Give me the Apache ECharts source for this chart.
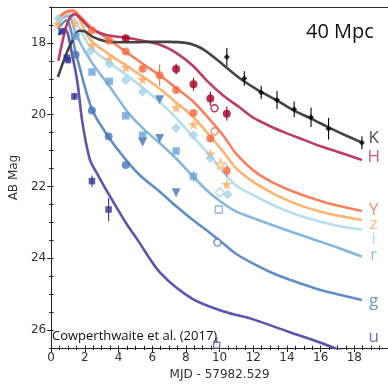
<!DOCTYPE html>
<html><head><meta charset="utf-8">
<script src="https://cdn.jsdelivr.net/npm/echarts@6/dist/echarts.min.js"></script>
<style>html,body{margin:0;padding:0;background:#fff;}#c{width:388px;height:386px;}</style>
</head><body><div id="c"></div>
<script>
// ---- model curves (AB mag vs days) ----
const kLineX = [0.40,0.9,1.3,1.65,2.0,2.5,3.2,4.0,5.0,6.0,7.0,8.0,8.6,9.1,9.8,10.5,11.3,12.3,13.4,14.4,15.4,16.5,17.5,18.45];
const kLineY = [18.95,18.3,17.9,17.66,17.68,17.84,17.95,17.98,17.98,17.97,17.97,18.0,18.08,18.2,18.45,18.72,19.02,19.32,19.6,19.88,20.1,20.36,20.58,20.77];
const hLineX = [0.43,0.8,1.1,1.4,1.8,2.3,3.2,4.4,5.0,5.7,6.5,7.4,8.4,9.3,10.25,11.2,12.0,13.0,14.0,15.0,16.0,17.0,18.45];
const hLineY = [18.5,17.7,17.3,17.2,17.35,17.58,17.77,17.85,17.9,17.96,18.06,18.27,18.63,19.08,19.48,19.8,20.08,20.32,20.52,20.7,20.88,21.03,21.26];
const yLineX = [0.34,0.8,1.3,1.8,2.4,3.45,4.5,5.5,6.5,7.4,8.4,9.45,10.25,11.0,12.0,13.0,14.0,15.0,16.0,17.0,18.45];
const yLineY = [17.35,17.15,17.1,17.3,17.58,17.92,18.27,18.6,18.92,19.25,19.62,20.15,20.6,21.1,21.55,21.85,22.07,22.25,22.4,22.53,22.68];
const zLineX = [0.34,0.8,1.2,1.6,2.3,3.45,4.5,5.7,6.5,7.4,8.4,9.45,10.25,11.0,12.0,13.0,14.0,15.0,16.0,17.0,18.45];
const zLineY = [17.5,17.2,17.1,17.28,17.9,18.32,18.65,19.02,19.3,19.65,20.05,20.6,21.05,21.5,21.87,22.15,22.38,22.56,22.7,22.81,22.93];
const iLineX = [0.4,0.8,1.1,1.5,2.3,3.45,4.5,5.7,6.5,7.4,8.4,9.45,10.25,11.0,12.0,13.0,14.0,15.0,16.0,17.0,18.45];
const iLineY = [17.4,17.2,17.17,17.42,18.1,18.55,18.9,19.35,19.67,20.08,20.6,21.15,21.62,21.98,22.24,22.48,22.68,22.85,22.98,23.09,23.2];
const rLineX = [0.4,0.7,1.05,1.5,2.42,3.45,4.58,5.5,6.47,7.42,8.36,9.3,10.25,11.0,12.0,13.0,14.0,15.0,16.0,17.0,18.45];
const rLineY = [17.5,17.3,17.25,17.8,18.55,19.2,19.95,20.4,20.8,21.22,21.69,22.13,22.48,22.7,22.88,23.05,23.22,23.38,23.54,23.7,23.95];
const gLineX = [0.4,0.9,1.47,2.42,3.41,4.43,5.3,6.47,7.42,8.36,9.45,10.25,11.0,12.0,13.0,14.0,15.0,16.0,17.0,18.45];
const gLineY = [17.6,17.37,18.3,19.85,20.62,21.25,21.7,22.15,22.55,22.91,23.3,23.6,23.88,24.15,24.38,24.57,24.73,24.88,25.0,25.16];
const uLineX = [0.43,0.81,1.28,1.57,1.85,2.3,2.8,3.45,4.49,5.15,6.47,8.36,10.25,12.0,14.0,16.0,18.45];
const uLineY = [17.78,17.6,18.41,19.13,20.2,21.25,21.7,22.24,23.05,23.5,24.4,25.12,25.48,25.7,26.03,26.35,26.8];

// ---- observations ----
const kX = [10.43,11.47,12.47,13.41,14.43,15.43,16.47,18.45];
const kY = [18.39,18.99,19.38,19.59,19.85,20.07,20.39,20.78];
const kErr = [0.25,0.2,0.18,0.25,0.22,0.27,0.3,0.18];
const hX = [4.43,7.42,8.45,9.45,10.43];
const hY = [17.87,18.73,19.15,19.55,19.97];
const hErr = [0.06,0.15,0.18,0.2,0.2];
const hOpenX = [9.7], hOpenY = [19.82];
const yX = [2.42,3.45,4.43,5.43,6.44,7.42,8.45,9.45,10.43];
const yY = [17.65,17.94,18.24,18.72,18.9,19.31,19.95,20.66,21.56];
const yErr = [0.04,0.04,0.05,0.08,0.3,0.08,0.08,0.1,0.17];
const yOpenX = [9.7], yOpenY = [20.46];
const zX = [0.38,1.38,2.42,3.45,4.43,5.43,7.42,8.45,9.45,10.43];
const zY = [17.46,17.46,18.07,18.45,18.68,19.01,19.8,20.27,21.09,21.94];
const zOpenX = [10.06], zOpenY = [21.38];
const iX = [0.43,2.32,3.45,4.43,5.43,7.42,8.45,9.45,10.47];
const iY = [17.32,18.23,18.59,19.04,19.36,20.37,20.57,21.21,22.22];
const iOpenX = [10.02], iOpenY = [22.16];
const rX = [1.47,2.42,3.45,4.43,5.43,7.42,8.45];
const rY = [17.82,18.81,19.07,20.03,20.57,21.01,21.72];
const rErr = [0.04,0.05,0.05,0.06,0.06,0.08,0.15];
const rOpenX = [9.96], rOpenY = [22.64];
const gX = [1.45,2.42,3.41,4.43];
const gY = [18.33,19.88,20.61,21.4];
const gTriX = [5.43,6.44,6.44,7.42];
const gTriY = [20.77,19.58,20.66,22.17];
const gOpenX = [9.87], gOpenY = [23.56];
const uX = [0.62,0.93,1.0,1.38,2.42,3.41];
const uY = [17.68,18.41,18.48,19.49,21.85,22.64];
const uErr = [0.05,0.08,0.08,0.1,0.16,0.32];
const uOpenX = [9.83], uOpenY = [26.42], uOpenLimTop = [26.2];

// ---- band labels ----
const bandNames = ['K','H','Y','z','i','r','g','u'];
const bandLabelY = [20.65,21.19,22.65,23.05,23.46,23.92,25.19,26.19];
const bandLabelX = 19.15;

const ticksY = [18,20,22,24,26];

const C = {
  K:{line:'#3a3a3a', pt:'#000000', lab:'#1a1a1a'},
  H:{line:'#b8335a', pt:'#a50026', lab:'#b8335a'},
  Y:{line:'#f47a58', pt:'#f46d43', lab:'#f46d43'},
  z:{line:'#fdb06a', pt:'#fca75a', lab:'#fca75a'},
  i:{line:'#b3dcee', pt:'#a3d4ea', lab:'#a3d4ea'},
  r:{line:'#80b3da', pt:'#6ea6d6', lab:'#74add1'},
  g:{line:'#5a88c4', pt:'#4575b4', lab:'#4a78b8'},
  u:{line:'#544ca6', pt:'#313695', lab:'#4a43a0'}
};
const STAR = 'path://M50,0 L61,35 L98,35 L68,57 L79,91 L50,70 L21,91 L32,57 L2,35 L39,35 Z';
const zip = (xs, ys) => xs.map((x, i) => [x, ys[i]]);
const zip3 = (xs, ys, es) => xs.map((x, i) => [x, ys[i], es[i]]);

function lineS(xs, ys, c) {
  return {type:'line', data: zip(xs, ys), symbol:'none', smooth:0.3, clip:true, z:2,
    lineStyle:{color:c, width:2.6, opacity:0.95}, silent:true};
}
function ptS(xs, ys, c, symbol, size, opts) {
  opts = opts || {};
  return Object.assign({type:'scatter', data: zip(xs, ys), symbol: symbol, symbolSize: size, z:5,
    itemStyle: opts.open ? {color:'#ffffff', borderColor:c, borderWidth:1.3} : {color:c}, silent:true}, opts.extra || {});
}
function errS(xs, ys, es, c, w) {
  return {type:'custom', data: zip3(xs, ys, es), z:4, silent:true, encode:{x:0, y:1},
    renderItem: function(params, api){
      const x = api.value(0), y = api.value(1), e = api.value(2);
      const p1 = api.coord([x, y - e]), p2 = api.coord([x, y + e]);
      return {type:'line', shape:{x1:p1[0], y1:p1[1], x2:p2[0], y2:p2[1]}, style:{stroke:c, lineWidth:w || 1.2}};
    }};
}

const series = [
  lineS(uLineX, uLineY, C.u.line),
  lineS(gLineX, gLineY, C.g.line),
  lineS(rLineX, rLineY, C.r.line),
  lineS(iLineX, iLineY, C.i.line),
  lineS(zLineX, zLineY, C.z.line),
  lineS(yLineX, yLineY, C.Y.line),
  lineS(hLineX, hLineY, C.H.line),
  lineS(kLineX, kLineY, C.K.line),
  errS(kX, kY, kErr, C.K.pt, 1.1),
  errS(hX, hY, hErr, C.H.pt, 1.1),
  errS(yX, yY, yErr, C.Y.pt, 1.1),
  errS(rX, rY, rErr, C.r.pt, 1.1),
  errS(uX, uY, uErr, C.u.pt, 1.1),
  {type:'custom', data: zip3(uOpenX, uOpenY, uOpenLimTop), z:4, silent:true, encode:{x:0,y:1},
    renderItem: function(params, api){
      const p1 = api.coord([api.value(0), api.value(2)]), p2 = api.coord([api.value(0), api.value(1)]);
      return {type:'line', shape:{x1:p1[0], y1:p1[1], x2:p2[0], y2:p2[1]}, style:{stroke:C.u.line, lineWidth:1.1}};
    }},
  ptS(kX, kY, C.K.pt, 'diamond', 6),
  ptS(hX, hY, C.H.pt, 'circle', 8),
  ptS(hOpenX, hOpenY, C.H.pt, 'circle', 7, {open:true}),
  ptS(yX, yY, C.Y.pt, 'circle', 8),
  ptS(yOpenX, yOpenY, C.Y.pt, 'circle', 7, {open:true}),
  ptS(zX, zY, C.z.pt, STAR, 11),
  ptS(zOpenX, zOpenY, C.z.pt, STAR, 10, {open:true}),
  ptS(iX, iY, C.i.pt, 'diamond', 10),
  ptS(iOpenX, iOpenY, C.i.pt, 'diamond', 9, {open:true}),
  ptS(rX, rY, C.r.pt, 'rect', 7.5),
  ptS(rOpenX, rOpenY, C.r.pt, 'rect', 7, {open:true}),
  ptS(gX, gY, C.g.pt, 'circle', 8),
  ptS(gTriX, gTriY, C.g.pt, 'triangle', 9, {extra:{symbolRotate:180}}),
  ptS(gOpenX, gOpenY, C.g.pt, 'circle', 7, {open:true}),
  ptS(uX, uY, C.u.pt, 'rect', 6.5),
  ptS(uOpenX, uOpenY, C.u.line, 'rect', 6, {open:true}),
  {type:'scatter', symbolSize:0, z:6, silent:true,
    data: bandNames.map((n, i) => ({value:[bandLabelX, bandLabelY[i]], name:n,
      label:{show:true, position:'inside', formatter:n, color:C[n].lab,
        fontFamily:'Open Sans', fontSize:17}}))}
];

const axisCol = '#222';
const baseX = {type:'value', min:0, max:20, gridIndex:0, splitLine:{show:false}};
const baseY = {type:'value', min:17, max:26.5, inverse:true, gridIndex:0, splitLine:{show:false}};
const option = {
  animation:false,
  backgroundColor:'#ffffff',
  grid:{left:39, top:7, right:-4.4, bottom:27, containLabel:false},
  xAxis:[
    Object.assign({}, baseX, {position:'bottom', interval:2,
      axisLine:{show:true, lineStyle:{color:axisCol, width:1}},
      axisTick:{show:true, inside:false, length:4, lineStyle:{color:axisCol}},
      axisLabel:{show:true, color:'#333', fontSize:12, fontFamily:'DejaVu Sans', margin:4, showMaxLabel:false},
      name:'MJD - 57982.529', nameLocation:'middle', nameGap:13,
      nameTextStyle:{color:'#333', fontSize:12, fontFamily:'DejaVu Sans'}}),
    Object.assign({}, baseX, {position:'bottom', interval:0.5, axisLine:{show:false},
      axisTick:{show:true, inside:true, length:2.5, lineStyle:{color:axisCol}}, axisLabel:{show:false}}),
    Object.assign({}, baseX, {position:'bottom', interval:0.5, axisLine:{show:false},
      axisTick:{show:true, inside:false, length:2, lineStyle:{color:axisCol}}, axisLabel:{show:false}}),
    Object.assign({}, baseX, {position:'top', interval:2,
      axisLine:{show:true, lineStyle:{color:'#333', width:1}}, axisTick:{show:false}, axisLabel:{show:false}})
  ],
  yAxis:[
    Object.assign({}, baseY, {position:'left', splitNumber:5,
      axisLine:{show:true, lineStyle:{color:axisCol, width:1}},
      axisTick:{show:true, inside:false, length:4, lineStyle:{color:axisCol}},
      axisLabel:{show:true, color:'#333', fontSize:12, fontFamily:'DejaVu Sans', margin:5,
        showMinLabel:false, showMaxLabel:false,
        formatter: v => (ticksY.indexOf(v) >= 0 ? String(v) : '')},
      name:'AB Mag', nameLocation:'middle', nameGap:21,
      nameTextStyle:{color:'#333', fontSize:12, fontFamily:'DejaVu Sans'}}),
    Object.assign({}, baseY, {position:'left', interval:0.5, axisLine:{show:false},
      axisTick:{show:true, inside:true, length:2.5, lineStyle:{color:axisCol}}, axisLabel:{show:false}}),
    Object.assign({}, baseY, {position:'left', interval:0.5, axisLine:{show:false},
      axisTick:{show:true, inside:false, length:2, lineStyle:{color:axisCol}}, axisLabel:{show:false}})
  ],
  graphic:[
    {type:'text', left:306, top:22, z:10, style:{text:'40 Mpc', fill:'#111', font:'20px "Open Sans"'}},
    {type:'text', left:52, top:330, z:10, style:{text:'Cowperthwaite et al. (2017)', fill:'#111', font:'13px "Open Sans"'}}
  ],
  series: series
};
const chart = echarts.init(document.getElementById('c'), null, {renderer:'canvas'});
chart.setOption(option);
</script>
</body></html>
